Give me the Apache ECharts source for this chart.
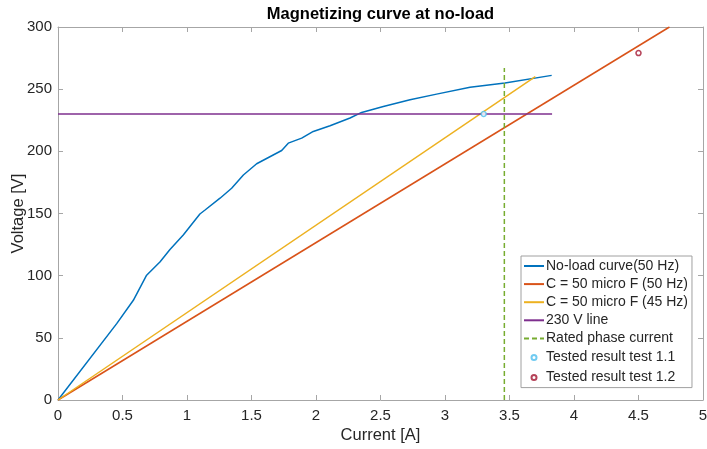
<!DOCTYPE html>
<html>
<head>
<meta charset="utf-8">
<script src="https://cdn.jsdelivr.net/npm/echarts@6/dist/echarts.min.js"></script>
<style>html,body{margin:0;padding:0;background:#fff;}#c{width:707px;height:449px;}</style>
</head>
<body>
<div id="c"></div>
<script>
// ---- data ----
const noLoadCurrent = [0, 0.455, 0.584, 0.687, 0.79, 0.868, 0.971, 1.1, 1.14, 1.256, 1.346, 1.437, 1.54, 1.734, 1.785, 1.889, 1.979, 2.109, 2.264, 2.354, 2.522, 2.729, 2.935, 3.194, 3.465, 3.827];
const noLoadVoltage = [0, 61.4, 80.2, 100.4, 111, 121, 132.7, 149.6, 152.8, 162.3, 170.3, 181, 190, 200.7, 206.6, 210.6, 216, 220.6, 226.8, 231.3, 236.1, 241.5, 246, 251.5, 255, 261.1];
const cap50Current = [0, 4.74];
const cap50Voltage = [0, 300];
const cap45Current = [0, 3.7];
const cap45Voltage = [0, 260];
const line230Current = [0, 3.83];
const line230Voltage = [230, 230];
const ratedCurrent = [3.46, 3.46];
const ratedVoltage = [0, 267];
const test11 = [[3.3, 230]];
const test12 = [[4.5, 279]];
const seriesNames = ['No-load curve(50 Hz)', 'C = 50 micro F (50 Hz)', 'C = 50 micro F (45 Hz)', '230 V line', 'Rated phase current', 'Tested result test 1.1', 'Tested result test 1.2'];
const xTicks = [0, 0.5, 1, 1.5, 2, 2.5, 3, 3.5, 4, 4.5, 5];
const yTicks = [0, 50, 100, 150, 200, 250, 300];

const zip = (a, b) => a.map((v, i) => [v, b[i]]);
const font = '"Liberation Sans", Arial, Helvetica, sans-serif';
const axisCol = '#a6a6a6';
const txtCol = '#262626';

const chart = echarts.init(document.getElementById('c'), null, {renderer: 'canvas'});
const ringIcon = 'path://M0,0M20,14M7.5,7a2.5,2.5 0 1,0 5,0a2.5,2.5 0 1,0 -5,0z';

function xAx(pos, show) {
  return {
    show: true, type: 'value', position: pos, gridIndex: 0, min: 0, max: 5, interval: 0.5,
    name: show ? 'Current [A]' : '', nameLocation: 'middle', nameGap: 27, nameMoveOverlap: false,
    nameTextStyle: {fontFamily: font, fontSize: 16.5, color: txtCol},
    axisLine: {show: true, onZero: false, lineStyle: {color: axisCol, width: 1}},
    axisTick: {show: true, inside: true, length: 5, lineStyle: {color: axisCol, width: 1}},
    axisLabel: {show: show, fontFamily: font, fontSize: 15, color: txtCol, margin: 8,
      formatter: v => xTicks.includes(v) ? String(v) : ''},
    splitLine: {show: false}
  };
}
function yAx(pos, show) {
  return {
    show: true, type: 'value', position: pos, gridIndex: 0, min: 0, max: 300, interval: 50,
    name: show ? 'Voltage [V]' : '', nameLocation: 'middle', nameGap: 31, nameMoveOverlap: false,
    nameTextStyle: {fontFamily: font, fontSize: 16.5, color: txtCol},
    axisLine: {show: true, onZero: false, lineStyle: {color: axisCol, width: 1}},
    axisTick: {show: true, inside: true, length: 5, lineStyle: {color: axisCol, width: 1}},
    axisLabel: {show: show, fontFamily: font, fontSize: 15, color: txtCol, margin: 6,
      formatter: v => yTicks.includes(v) ? String(v) : ''},
    splitLine: {show: false}
  };
}

const lineBase = {type: 'line', showSymbol: false, symbol: 'none', xAxisIndex: 0, yAxisIndex: 0, clip: true, z: 3};
const hiddenSym = {opacity: 0, color: 'transparent', borderColor: 'transparent', borderWidth: 0};

chart.setOption({
  animation: false,
  backgroundColor: '#fff',
  title: {
    text: 'Magnetizing curve at no-load', left: 380.5, top: 6, textAlign: 'center', padding: 0,
    textStyle: {fontFamily: font, fontSize: 16.5, fontWeight: 'bold', color: '#000'}
  },
  grid: {left: 58, right: 4, top: 27, bottom: 49, containLabel: false, outerBoundsMode: 'none'},
  xAxis: [xAx('bottom', true), xAx('top', false)],
  yAxis: [yAx('left', true), yAx('right', false)],
  legend: {
    orient: 'vertical', left: 521, top: 256,
    padding: [3, 4, 2, 2], itemGap: 4.1, itemWidth: 20, itemHeight: 14,
    backgroundColor: '#fff', borderColor: '#a0a0a0', borderWidth: 1,
    textStyle: {fontFamily: font, fontSize: 14, color: txtCol, padding: [0, 0, 0, -3]},
    selectedMode: false,
    data: [
      {name: seriesNames[0], itemStyle: hiddenSym}, {name: seriesNames[1], itemStyle: hiddenSym},
      {name: seriesNames[2], itemStyle: hiddenSym}, {name: seriesNames[3], itemStyle: hiddenSym},
      {name: seriesNames[4], itemStyle: hiddenSym},
      {name: seriesNames[5], icon: ringIcon},
      {name: seriesNames[6], icon: ringIcon}
    ]
  },
  series: [
    Object.assign({}, lineBase, {name: seriesNames[0], data: zip(noLoadCurrent, noLoadVoltage),
      lineStyle: {color: '#0072BD', width: 1.5}, itemStyle: {color: '#0072BD'}}),
    Object.assign({}, lineBase, {name: seriesNames[1], data: zip(cap50Current, cap50Voltage),
      lineStyle: {color: '#D95319', width: 1.5}, itemStyle: {color: '#D95319'}}),
    Object.assign({}, lineBase, {name: seriesNames[2], data: zip(cap45Current, cap45Voltage),
      lineStyle: {color: '#EDB120', width: 1.5}, itemStyle: {color: '#EDB120'}}),
    Object.assign({}, lineBase, {name: seriesNames[3], data: zip(line230Current, line230Voltage),
      lineStyle: {color: '#7E2F8E', width: 1.5}, itemStyle: {color: '#7E2F8E'}}),
    Object.assign({}, lineBase, {name: seriesNames[4], data: zip(ratedCurrent, ratedVoltage),
      lineStyle: {color: '#77AC30', width: 1.5, type: [5, 3]}, itemStyle: {color: '#77AC30'}}),
    {type: 'scatter', name: seriesNames[5], data: test11, symbol: 'circle', symbolSize: 5, z: 4,
      itemStyle: {color: '#fff', borderColor: '#4DBEEE', borderWidth: 1.5}},
    {type: 'scatter', name: seriesNames[6], data: test12, symbol: 'circle', symbolSize: 5, z: 4,
      itemStyle: {color: '#fff', borderColor: '#A2142F', borderWidth: 1.5}}
  ]
});
</script>
</body>
</html>
